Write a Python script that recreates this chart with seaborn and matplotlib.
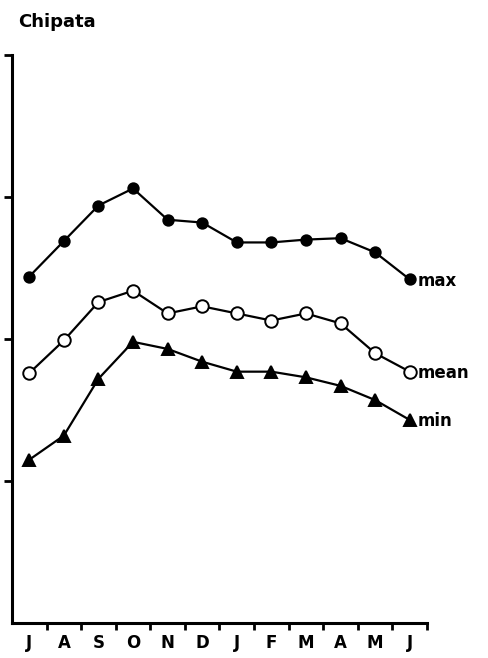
import matplotlib
matplotlib.use("Agg")
import matplotlib.pyplot as plt
import seaborn as sns
import pandas as pd
import numpy as np

months = ["J", "A", "S", "O", "N", "D", "J", "F", "M", "A", "M", "J"]
t_max = [24.4, 26.9, 29.4, 30.6, 28.4, 28.2, 26.8, 26.8, 27.0, 27.1, 26.1, 24.2]
t_mean = [17.6, 19.9, 22.6, 23.4, 21.8, 22.3, 21.8, 21.3, 21.8, 21.1, 19.0, 17.7]
t_min = [11.5, 13.2, 17.2, 19.8, 19.3, 18.4, 17.7, 17.7, 17.3, 16.7, 15.7, 14.3]
y_ticks = [10, 20, 30, 40]

sns.set_theme(style="ticks")
plt.rcParams["font.family"] = ["DejaVu Sans"]
plt.rcParams["text.color"] = "black"
plt.rcParams["xtick.labelcolor"] = "black"
plt.rcParams["ytick.labelcolor"] = "black"

idx = np.arange(len(months))
df = pd.DataFrame({"month": np.tile(idx, 3),
                   "value": t_max + t_mean + t_min,
                   "series": ["max"] * 12 + ["mean"] * 12 + ["min"] * 12})

fig = plt.figure(figsize=(4.88, 6.58), dpi=100)
ax = fig.add_axes([12 / 488, 1 - 623 / 658, 415 / 488, 568 / 658])

styles = {"max": dict(marker="o", mfc="black", ms=7.5),
          "mean": dict(marker="o", mfc="white", ms=9),
          "min": dict(marker="^", mfc="black", ms=9)}
for name, st in styles.items():
    sub = df[df.series == name]
    sns.lineplot(data=sub, x="month", y="value", ax=ax, color="black",
                 linewidth=1.6, marker=st["marker"], markersize=st["ms"],
                 markerfacecolor=st["mfc"], markeredgecolor="black", markeredgewidth=1.4,
                 legend=False, clip_on=False)
    last = sub["value"].iloc[-1]
    ax.annotate(name, (idx[-1], last), xytext=(6, -1), textcoords="offset points",
                ha="left", va="center", fontsize=12, fontweight="bold", color="black")

ax.set_xlim(-0.5, 11.5)
ax.set_ylim(0, 40)

# boundaries between months carry the tick marks, labels sit between them
ax.set_xticks(np.arange(0.5, 12, 1.0))
ax.set_xticklabels([])
ax.set_xticks(idx, minor=True)
ax.set_xticklabels(months, minor=True, fontsize=12, fontweight="bold", color="black")
ax.tick_params(axis="x", which="major", direction="out", length=5, width=2, color="black")
ax.tick_params(axis="x", which="minor", length=0, pad=8)

ax.set_yticks(y_ticks)
ax.set_yticklabels([])
ax.tick_params(axis="y", direction="out", length=6, width=2, color="black")

for s in ["left", "bottom"]:
    ax.spines[s].set_linewidth(2.2)
    ax.spines[s].set_color("black")
sns.despine(ax=ax)

ax.set_xlabel("")
ax.set_ylabel("")
fig.text(18 / 488, 1 - 22 / 658, "Chipata", fontsize=13, fontweight="bold",
         va="center", ha="left", color="black")

fig.savefig("out.png", dpi=100, facecolor="white")
